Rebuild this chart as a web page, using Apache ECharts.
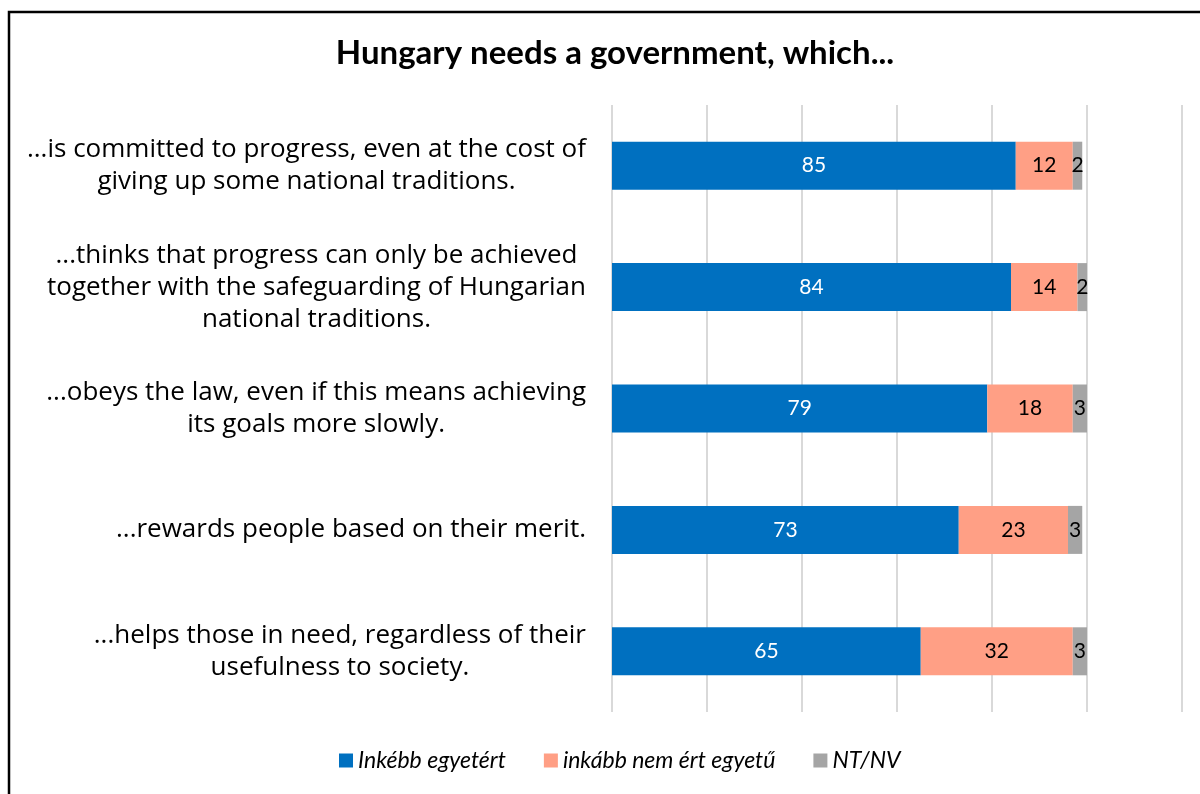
<!DOCTYPE html>
<html>
<head>
<meta charset="utf-8">
<script src="https://cdn.jsdelivr.net/npm/echarts@6/dist/echarts.min.js"></script>
<style>
  html, body { margin: 0; padding: 0; background: #fff; }
  #chart { width: 1200px; height: 794px; }
</style>
</head>
<body>
<div id="chart"></div>
<script>
// Statements, top to bottom (line breaks as shown on the axis)
const categories = [
  '...is committed to progress, even at the cost of\ngiving up some national traditions.',
  '...thinks that progress can only be achieved\ntogether with the safeguarding of Hungarian\nnational traditions.',
  '...obeys the law, even if this means achieving\nits goals more slowly.',
  '...rewards people based on their merit.',
  '...helps those in need, regardless of their\nusefulness to society.'
];

// Shares of respondents (%)
const agree = [85, 84, 79, 73, 65];
const disagree = [12, 14, 18, 23, 32];
const noAnswer = [2, 2, 3, 3, 3];

const seriesNames = ['Inkébb egyetért', 'inkább nem ért egyetű', 'NT/NV'];
const colors = ['#0070C0', '#FF9F85', '#A5A5A5'];
const xTicks = { min: 0, max: 120, interval: 20 };

const chart = echarts.init(document.getElementById('chart'));

const labelFont = 'Lato, "Liberation Sans", sans-serif';
const catFont = '"Open Sans", "Noto Sans", sans-serif';

function barSeries(name, data, color, labelColor) {
  return {
    name: name,
    type: 'bar',
    stack: 'total',
    data: data,
    barWidth: 48,
    itemStyle: { color: color },
    label: {
      show: true,
      position: 'inside',
      color: labelColor,
      fontFamily: labelFont,
      fontSize: 21
    },
    emphasis: { disabled: true }
  };
}

chart.setOption({
  animation: false,
  backgroundColor: '#ffffff',
  title: {
    text: 'Hungary needs a government, which...',
    left: 610,
    textAlign: 'center',
    top: 32,
    textStyle: {
      fontFamily: labelFont,
      fontWeight: 'bold',
      fontSize: 33,
      color: '#000'
    }
  },
  legend: {
    bottom: 17,
    left: 334,
    itemWidth: 14,
    itemHeight: 14,
    itemGap: 38,
    icon: 'rect',
    textStyle: {
      fontFamily: labelFont,
      fontStyle: 'italic',
      fontSize: 23,
      color: '#000'
    },
    data: seriesNames
  },
  grid: {
    left: 612,
    right: 18,
    top: 105,
    bottom: 82,
    containLabel: false
  },
  xAxis: {
    type: 'value',
    min: xTicks.min,
    max: xTicks.max,
    interval: xTicks.interval,
    axisLabel: { show: false },
    axisLine: { show: false },
    axisTick: { show: false },
    splitLine: { show: true, lineStyle: { color: '#d9d9d9', width: 2 } }
  },
  yAxis: {
    type: 'category',
    inverse: true,
    data: categories,
    axisLine: { show: false },
    axisTick: { show: false },
    axisLabel: {
      margin: 26,
      formatter: function (v) {
        return v.split('\n').map(function (l) { return '{c|' + l + '}'; }).join('\n');
      },
      rich: {
        c: {
          align: 'center',
          fontFamily: catFont,
          fontSize: 26,
          lineHeight: 32,
          color: '#000'
        }
      }
    }
  },
  series: [
    barSeries(seriesNames[0], agree, colors[0], '#ffffff'),
    barSeries(seriesNames[1], disagree, colors[1], '#000000'),
    barSeries(seriesNames[2], noAnswer, colors[2], '#000000')
  ],
  graphic: [{
    type: 'rect',
    silent: true,
    shape: { x: 9, y: 12, width: 1300, height: 900 },
    style: { fill: 'none', stroke: '#000', lineWidth: 2.5 }
  }]
});
</script>
</body>
</html>
